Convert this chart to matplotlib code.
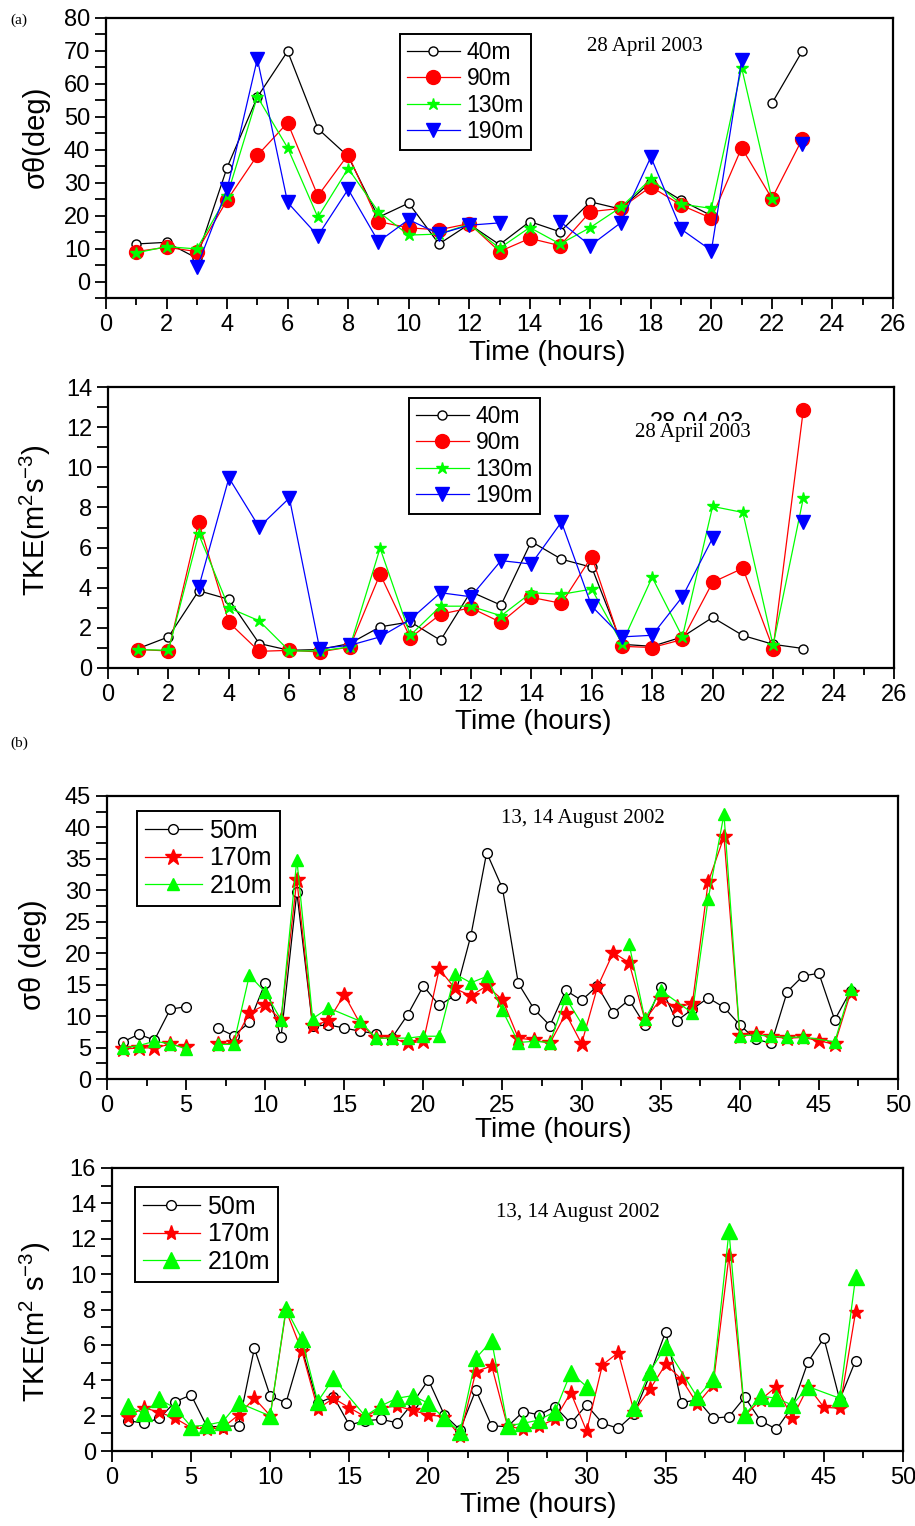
import numpy as np
import matplotlib
matplotlib.use('Agg')
import matplotlib.pyplot as plt
from matplotlib.ticker import MultipleLocator

nan = np.nan

# (a) 28 April 2003, hourly values 1..23
hours_a = list(range(1, 24))
sig_a_40 = [11.4, 11.9, 7.1, 34.6, 56.0, 69.9, 46.4, 38.0, 19.5, 23.8, 11.4, 17.4,
            11.2, 18.2, 15.1, 24.2, 22.0, 30.3, 24.7, 20.0, nan, 54.1, 69.9]
sig_a_90 = [9.1, 10.4, 9.1, 24.7, 38.3, 48.2, 26.0, 38.5, 18.2, 16.3, 15.7, 17.6,
            9.1, 13.1, 10.9, 21.2, 22.2, 28.8, 23.2, 19.2, 40.6, 25.2, 43.2]
sig_a_130 = [8.7, 10.6, 9.9, 26.0, 56.1, 40.6, 19.5, 34.3, 21.2, 14.1, 14.4, 17.4,
             10.1, 16.4, 11.4, 16.4, 22.5, 31.1, 23.5, 22.2, 64.9, 25.0, nan]
sig_a_190 = [nan, nan, 4.3, 28.0, 67.6, 24.0, 13.9, 28.0, 12.1, 18.8, 14.4, 17.1,
             17.8, nan, 18.2, 10.9, 17.8, 37.8, 15.9, 9.4, 67.2, nan, 41.7]

tke_a_40 = [0.97, 1.55, 3.85, 3.42, 1.22, 0.88, 0.92, 1.22, 2.05, 2.3, 1.38, 3.8,
            3.13, 6.3, 5.42, 5.02, 1.18, 1.08, 1.55, 2.52, 1.62, 1.18, 0.97]
tke_a_90 = [0.92, 0.85, 7.27, 2.27, 0.83, 0.88, 0.8, 1.05, 4.68, 1.5, 2.68, 3.0,
            2.27, 3.52, 3.22, 5.55, 1.08, 1.02, 1.42, 4.27, 4.97, 0.97, 12.85]
tke_a_130 = [0.92, 0.88, 6.67, 3.0, 2.35, 0.85, 0.85, 1.05, 5.97, 1.63, 3.08, 3.08,
             2.6, 3.75, 3.67, 3.93, 1.22, 4.52, 1.55, 8.05, 7.75, 1.13, 8.47]
tke_a_190 = [nan, nan, 4.02, 9.47, 7.02, 8.47, 0.97, 1.13, 1.55, 2.42, 3.75, 3.55,
             5.35, 5.18, 7.27, 3.08, 1.55, 1.63, 3.55, 6.47, nan, nan, 7.27]

# (b) 13, 14 August 2002, hourly values 1..47
hours_b = list(range(1, 48))
sig_b_50 = [5.9, 7.1, 6.2, 11.1, 11.5, nan, 8.1, 6.9, 9.0, 15.3, 6.6, 29.7, 8.4, 8.6,
            8.1, 7.6, 7.2, 6.5, 10.2, 14.8, 11.7, 13.3, 22.8, 36.0, 30.3, 15.2, 11.1,
            8.5, 14.1, 12.5, 14.8, 10.5, 12.6, 8.6, 14.7, 9.2, 11.1, 12.9, 11.4, 8.6,
            6.3, 5.7, 13.9, 16.4, 16.8, 9.4, 14.0]
sig_b_170 = [4.8, 4.9, 5.0, 5.5, 5.1, nan, 5.5, 5.7, 10.5, 11.8, 9.4, 31.7, 8.4, 9.3,
             13.4, 8.8, 6.5, 6.5, 5.7, 6.0, 17.5, 14.4, 13.2, 14.8, 12.6, 6.5, 6.2,
             5.7, 10.4, 5.6, 14.6, 20.1, 18.5, 9.4, 12.7, 11.4, 12.0, 31.3, 38.5, 6.8,
             7.2, 6.7, 6.5, 6.6, 6.1, 5.5, 13.7]
hours_b_210s = [1, 2, 3, 4, 5, 6, 7, 8, 9, 10, 11, 12, 13, 14, 16, 17, 18, 19, 20, 21,
                22, 23, 24, 25, 26, 27, 28, 29, 30, 31, 32, 33, 34, 35, 37, 38, 39, 40,
                41, 42, 43, 44, 46, 47]
sig_b_210 = [4.9, 5.3, 6.0, 5.6, 4.8, nan, 5.5, 5.5, 16.5, 13.8, 9.4, 34.9, 9.6, 11.3,
             9.2, 6.5, 6.5, 6.5, 6.8, 6.8, 16.7, 15.3, 16.3, 10.9, 5.8, 6.0, 5.8, 12.9,
             8.8, nan, nan, 21.5, 9.5, 14.1, 10.5, 28.6, 42.1, 6.9, 7.0, 6.8, 6.6, 6.7,
             5.9, 14.3]

tke_b_50 = [1.72, 1.57, 1.85, 2.79, 3.17, 1.38, 1.38, 1.43, 5.81, 3.11, 2.73, 5.8,
            2.7, 3.08, 1.47, 1.71, 1.79, 1.6, 2.7, 4.02, 2.05, 1.19, 3.45, 1.42, 1.38,
            2.23, 2.04, 2.51, 1.57, 2.6, 1.57, 1.28, 2.1, 4.3, 6.75, 2.73, 2.9, 1.85,
            1.94, 3.04, 1.71, 1.23, 2.5, 5.05, 6.38, 2.9, 5.11]
tke_b_170 = [1.94, 2.45, 2.19, 1.85, 1.32, 1.23, 1.32, 2.04, 2.98, 2.0, 7.94, 5.66,
             2.38, 2.98, 2.45, 1.94, 2.42, 2.55, 2.3, 2.04, 1.94, 0.85, 4.49, 4.81,
             1.4, 1.23, 1.42, 1.79, 3.3, 1.13, 4.87, 5.56, 2.23, 3.49, 4.9, 4.06, 2.66,
             3.73, 11.04, 2.0, 2.89, 3.64, 1.85, 3.64, 2.47, 2.42, 7.85]
hours_b_210t = [1, 2, 3, 4, 5, 6, 7, 8, 10, 11, 12, 13, 14, 16, 17, 18, 19, 20, 21, 22,
                23, 24, 25, 26, 27, 28, 29, 30, 31, 32, 33, 34, 35, 37, 38, 39, 40, 41,
                42, 43, 44, 46, 47]
tke_b_210 = [2.55, 2.13, 2.92, 2.42, 1.38, 1.47, 1.66, 2.73, 1.98, 8.04, 6.34, 2.79,
             4.11, 1.98, 2.55, 2.98, 3.13, 2.7, 1.85, 1.09, 5.25, 6.23, 1.42, 1.57,
             1.75, 2.23, 4.43, 3.64, nan, nan, 2.42, 4.49, 5.9, 3.04, 4.06, 12.42, 2.04,
             3.11, 2.98, 2.6, 3.64, 2.98, 9.81]

plt.rcParams['font.family'] = ['Liberation Sans', 'DejaVu Sans']
plt.rcParams['mathtext.fontset'] = 'custom'
plt.rcParams['mathtext.rm'] = 'Liberation Sans'
plt.rcParams['mathtext.it'] = 'Liberation Sans:italic'

W, H = 915, 1526
GREEN = '#00ff00'
fig = plt.figure(figsize=(W / 100, H / 100), dpi=100)


def box(l, t, r, b):
    return [l / W, 1 - b / H, (r - l) / W, (b - t) / H]


def ftext(x, y, s, **kw):
    return fig.text(x / W, 1 - y / H, s, ha='center', va='center', **kw)


def style(ax, xmax, xmaj, xmin_, ylo, yhi, ymaj, ymin_):
    ax.set_xlim(0, xmax)
    ax.set_ylim(ylo, yhi)
    ax.xaxis.set_major_locator(MultipleLocator(xmaj))
    ax.xaxis.set_minor_locator(MultipleLocator(xmin_))
    ax.yaxis.set_major_locator(MultipleLocator(ymaj))
    ax.yaxis.set_minor_locator(MultipleLocator(ymin_))
    ax.tick_params(which='both', direction='out', top=False, right=False,
                   labelsize=17, width=1.3)
    ax.tick_params(which='major', length=8)
    ax.tick_params(axis='x', which='minor', length=5)
    ax.tick_params(axis='y', which='minor', length=8)
    for s in ax.spines.values():
        s.set_linewidth(1.6)


def leg(ax, x, y, fs):
    lg = ax.legend(loc='upper left', bbox_to_anchor=(x / W, 1 - y / H),
                   bbox_transform=fig.transFigure, borderaxespad=0, fontsize=fs,
                   handlelength=2.3, handletextpad=0.3, labelspacing=0.15,
                   borderpad=0.3, fancybox=False, framealpha=1)
    lg.get_frame().set_edgecolor('black')
    lg.get_frame().set_linewidth(1.4)


open_c = dict(color='black', marker='o', mfc='white', mec='black', lw=0.9)

# ---- panel 1: sigma theta, April
ax1 = fig.add_axes(box(106, 18, 893, 298))
ax1.plot(hours_a, sig_a_40, ms=6.5, label='40m', **open_c)
ax1.plot(hours_a, sig_a_90, color='red', marker='o', ms=10, lw=0.9, label='90m')
ax1.plot(hours_a, sig_a_130, color=GREEN, marker='*', ms=9, lw=0.9, label='130m')
ax1.plot(hours_a, sig_a_190, color='blue', marker='v', ms=10.5, lw=0.9, label='190m')
style(ax1, 26, 2, 1, -5, 80, 10, 5)
leg(ax1, 400, 34, 16.5)
ftext(645, 47, '28 April 2003', family='Liberation Serif', fontsize=15)

# ---- panel 2: TKE, April
ax2 = fig.add_axes(box(108, 387, 894, 668))
ax2.plot(hours_a, tke_a_40, ms=6.5, label='40m', **open_c)
ax2.plot(hours_a, tke_a_90, color='red', marker='o', ms=10, lw=0.9, label='90m')
ax2.plot(hours_a, tke_a_130, color=GREEN, marker='*', ms=9, lw=0.9, label='130m')
ax2.plot(hours_a, tke_a_190, color='blue', marker='v', ms=10.5, lw=0.9, label='190m')
style(ax2, 26, 2, 1, 0, 14, 2, 1)
leg(ax2, 409, 398, 16.5)
ftext(697, 423, '28-04-03', fontsize=17)
ftext(693, 433, '28 April 2003', family='Liberation Serif', fontsize=15,
      bbox=dict(facecolor='white', edgecolor='none', pad=1.5))

# ---- panel 3: sigma theta, August
ax3 = fig.add_axes(box(107, 796, 898, 1079))
ax3.plot(hours_b, sig_b_50, ms=7, label='50m', **open_c)
ax3.plot(hours_b, sig_b_170, color='red', marker='*', ms=12, lw=0.9, label='170m')
ax3.plot(hours_b_210s, sig_b_210, color=GREEN, marker='^', ms=8, lw=0.9, label='210m')
style(ax3, 50, 5, 2.5, 0, 45, 5, 2.5)
leg(ax3, 137, 811, 18)
ftext(583, 818, '13, 14 August 2002', family='Liberation Serif', fontsize=15)

# ---- panel 4: TKE, August
ax4 = fig.add_axes(box(112, 1168, 903, 1451))
ax4.plot(hours_b, tke_b_50, ms=7, label='50m', **open_c)
ax4.plot(hours_b, tke_b_170, color='red', marker='*', ms=11, lw=0.9, label='170m')
ax4.plot(hours_b_210t, tke_b_210, color=GREEN, marker='^', ms=11, lw=0.9, label='210m')
style(ax4, 50, 5, 2.5, 0, 16, 2, 1)
leg(ax4, 135, 1187, 18)
ftext(578, 1213, '13, 14 August 2002', family='Liberation Serif', fontsize=15)

# axis titles
ftext(547, 353, 'Time (hours)', fontsize=20)
ftext(533, 722, 'Time (hours)', fontsize=20)
ftext(553, 1130, 'Time (hours)', fontsize=20)
ftext(538, 1505, 'Time (hours)', fontsize=20)
ftext(36, 137, 'σθ(deg)', fontsize=21, rotation=90)
ftext(35, 520, 'TKE(m$^2$s$^{-3}$)', fontsize=21, rotation=90)
ftext(33, 955, 'σθ (deg)', fontsize=21, rotation=90)
ftext(35, 1322, 'TKE(m$^2$ s$^{-3}$)', fontsize=21, rotation=90)

ftext(19, 20, '(a)', family='Liberation Serif', fontsize=11)
ftext(19, 743, '(b)', family='Liberation Serif', fontsize=11)

fig.savefig('out.png', dpi=100)
